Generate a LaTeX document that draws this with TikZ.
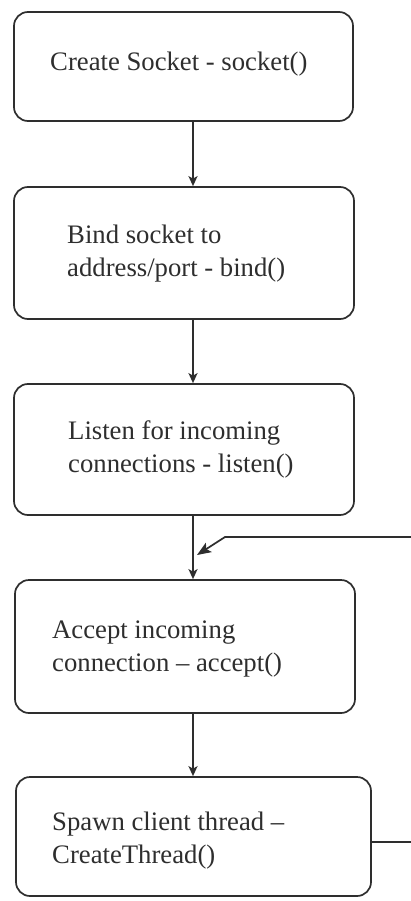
\documentclass[tikz,border=0pt]{standalone}
\usepackage{fontspec}
\setmainfont{Liberation Serif}
\usetikzlibrary{arrows.meta}
\definecolor{ink}{HTML}{2E2E2E}
\begin{document}
\begin{tikzpicture}[x=1pt,y=-1pt,
  box/.style={draw=ink, line width=1.7pt, rounded corners=14pt, inner sep=0pt},
  label/.style={anchor=base west, align=left, inner sep=0pt, text=ink,
    font=\fontsize{26.7}{32.5}\selectfont},
  flow/.style={draw=ink, line width=1.7pt,
    -{Stealth[length=10pt,width=9pt,inset=2.5pt]}},
  loopback/.style={draw=ink, line width=1.7pt,
    -{Stealth[length=14pt,width=11pt,inset=3pt]}}]
\useasboundingbox (0,0) rectangle (411,901);
\fill[white] (0,0) rectangle (411,901);
\clip (0,0) rectangle (411,901);

% process steps
\node[box, minimum width=339pt, minimum height=109pt] (b1) at (183.5,66.5) {};
\node[box, minimum width=340pt, minimum height=132pt] (b2) at (184,253) {};
\node[box, minimum width=340pt, minimum height=131pt] (b3) at (184,449.5) {};
\node[box, minimum width=340pt, minimum height=133pt] (b4) at (185,646.5) {};
\node[box, minimum width=355pt, minimum height=119pt] (b5) at (193.5,836.5) {};

% step texts (base anchor sits on the last line's baseline)
\node[label] (t1) at (50,71) {Create Socket - socket()};
\node[label] (t2) at (67,276) {Bind socket to\\address/port - bind()};
\node[label] (t3) at (68,472) {Listen for incoming\\connections - listen()};
\node[label] (t4) at (52,671) {Accept incoming\\connection -- accept()};
\node[label] (t5) at (52,863) {Spawn client thread --\\CreateThread()};

% vertical flow line
\coordinate (ax) at (193,0);
\draw[flow] (b1.south -| ax) -- (b2.north -| ax);
\draw[flow] (b2.south -| ax) -- (b3.north -| ax);
\draw[flow] (b3.south -| ax) -- (b4.north -| ax);
\draw[flow] (b4.south -| ax) -- (b5.north -| ax);

% return path from the thread spawn back to accept
\coordinate (ret) at (197,555);
\draw[loopback] ([yshift=-5.5pt]b5.east) -- (440,842) -- (440,537) -- (225,537) -- (ret);
\end{tikzpicture}
\end{document}
